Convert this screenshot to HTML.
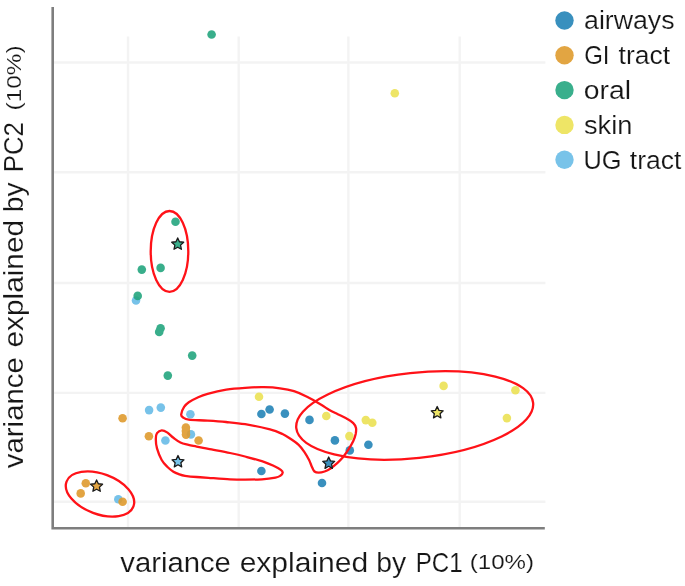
<!DOCTYPE html>
<html><head><meta charset="utf-8">
<style>
html,body{margin:0;padding:0;background:#fff;}
body{width:685px;height:586px;overflow:hidden;font-family:"Liberation Sans",sans-serif;}
svg{display:block;}
text{font-family:"Liberation Sans",sans-serif;fill:#161616;stroke:#fff;stroke-width:0.15px;}
svg{filter:blur(0.35px);}
</style></head><body>
<svg width="685" height="586" viewBox="0 0 685 586">
<rect width="685" height="586" fill="#fff"/>
<!-- grid -->
<g stroke="#f3f3f3" stroke-width="2.4" fill="none">
<path d="M128.05 36.4V528M238.7 36.4V528M348.4 36.4V528M459.7 36.4V528"/>
<path d="M53 62.5H545.4M53 172.3H545.4M53 283H545.4M53 392.9H545.4M53 501.8H545.4"/>
</g>
<!-- axes -->
<path d="M52.7 7V528.2H544.8" stroke="#7e7e7e" stroke-width="2.6" fill="none" stroke-linejoin="miter"/>
<!-- dots -->
<g opacity="1">
<g fill="#69BCE7" opacity="0.9">
<circle cx="136" cy="300.5" r="4.3"/><circle cx="149.1" cy="410.1" r="4.3"/><circle cx="160.8" cy="407.6" r="4.3"/>
<circle cx="190.4" cy="414.3" r="4.3"/><circle cx="165.4" cy="440.5" r="4.3"/><circle cx="190.9" cy="434.4" r="4.3"/>
<circle cx="118.3" cy="499.3" r="4.3"/>
</g>
<g fill="#DF9B2E" opacity="0.9">
<circle cx="122.6" cy="418.3" r="4.3"/><circle cx="148.9" cy="436.2" r="4.3"/>
<circle cx="185.9" cy="427.5" r="4.3"/><circle cx="185.9" cy="431" r="4.3"/><circle cx="186" cy="434.6" r="4.3"/>
<circle cx="198.6" cy="440.5" r="4.3"/>
<circle cx="85.8" cy="483.3" r="4.3"/><circle cx="80.7" cy="493.4" r="4.3"/><circle cx="122.6" cy="501.8" r="4.3"/>
</g>
<g fill="#24A67F" opacity="0.9">
<circle cx="211.6" cy="34.5" r="4.3"/><circle cx="175.5" cy="221.7" r="4.3"/><circle cx="160.6" cy="267.9" r="4.3"/>
<circle cx="141.8" cy="269.6" r="4.3"/><circle cx="137.7" cy="295.9" r="4.3"/>
<circle cx="160.6" cy="328.3" r="4.3"/><circle cx="159.2" cy="331.9" r="4.3"/>
<circle cx="192.2" cy="355.6" r="4.3"/><circle cx="167.8" cy="375.6" r="4.3"/>
</g>
<g fill="#ECE255" opacity="0.9">
<circle cx="394.8" cy="93.3" r="4.3"/><circle cx="259" cy="396.8" r="4.3"/>
<circle cx="326.3" cy="416" r="4.3"/><circle cx="365.8" cy="420.1" r="4.3"/><circle cx="372.3" cy="422.8" r="4.3"/>
<circle cx="349.4" cy="436.1" r="4.3"/><circle cx="443.6" cy="385.9" r="4.3"/><circle cx="515.4" cy="390.3" r="4.3"/>
<circle cx="506.9" cy="418.1" r="4.3"/>
</g>
<g fill="#2484B7" opacity="0.9">
<circle cx="261.4" cy="414" r="4.3"/><circle cx="269.6" cy="409.5" r="4.3"/><circle cx="284.9" cy="413.6" r="4.3"/>
<circle cx="309.5" cy="419.9" r="4.3"/><circle cx="334.9" cy="440.4" r="4.3"/><circle cx="349.8" cy="450.4" r="4.3"/>
<circle cx="368.4" cy="444.7" r="4.3"/><circle cx="322" cy="483" r="4.3"/><circle cx="261.4" cy="471" r="4.3"/>
</g>
</g>
<!-- ellipses -->
<g fill="none" stroke="#ff1218" stroke-width="2.3">
<ellipse cx="169.5" cy="251.4" rx="18.8" ry="40.4"/>
<ellipse cx="100" cy="494" rx="35.7" ry="20.1" transform="rotate(20.4 100 494)"/>
<ellipse cx="414.7" cy="415.5" rx="119.1" ry="42.6" transform="rotate(-6.1 414.7 415.5)"/>
<!-- lower blob -->
<path d="M161.7 430.3C163.4 430.2 165.6 431.4 167.5 432.6C169.4 433.9 171.2 436.2 173.4 437.8C175.6 439.4 177.9 441.3 180.4 442.5C182.9 443.7 185.8 444.2 188.5 444.9C191.2 445.6 193.4 445.9 196.7 446.6C200.0 447.3 202.8 447.8 208.4 448.9C214.0 450.0 223.9 451.7 230.0 453.0C236.1 454.3 239.3 455.0 245.0 456.5C250.7 458.0 258.9 460.1 263.9 461.8C268.9 463.5 272.2 465.2 275.0 466.5C277.8 467.8 279.5 468.8 280.8 469.8C282.1 470.8 282.8 471.6 282.7 472.6C282.6 473.6 281.5 475.0 280.3 475.8C279.1 476.6 278.6 477.0 275.5 477.6C272.4 478.2 267.1 479.0 262.0 479.3C256.9 479.6 250.4 479.6 245.1 479.6C239.8 479.6 236.1 479.6 230.0 479.3C223.9 479.0 214.0 478.2 208.4 477.8C202.8 477.4 200.6 477.3 196.7 477.0C192.8 476.7 187.9 476.2 185.0 475.8C182.1 475.4 181.1 475.0 179.2 474.3C177.3 473.6 175.3 472.9 173.4 471.7C171.5 470.5 169.4 468.9 167.5 467.0C165.6 465.1 163.4 463.1 161.7 460.0C159.9 456.9 158.0 451.9 157.0 448.4C156.0 444.9 155.8 441.5 155.8 439.0C155.8 436.5 156.0 434.6 157.0 433.2C158.0 431.8 159.9 430.4 161.7 430.3Z"/>
<!-- upper hairpin -->
<path d="M181.2 414.4C181.4 412.6 182.8 408.9 184.1 406.9C185.4 404.9 186.5 403.8 188.8 402.2C191.2 400.6 195.1 398.6 198.2 397.2C201.3 395.8 202.9 395.1 207.6 393.8C212.3 392.5 220.1 390.6 226.3 389.6C232.6 388.6 238.8 388.2 245.1 387.8C251.4 387.4 258.1 387.1 263.9 387.2C269.7 387.3 275.0 387.6 280.0 388.3C285.0 389.0 289.5 389.8 294.0 391.2C298.5 392.6 302.5 394.5 307.0 396.8C311.5 399.1 317.5 402.6 321.2 404.8C324.9 407.0 326.6 408.4 329.4 410.0C332.2 411.6 334.8 412.7 337.8 414.2C340.8 415.7 344.7 417.5 347.3 419.0C349.9 420.5 351.9 421.6 353.3 423.1C354.8 424.6 355.6 426.1 356.0 427.9C356.4 429.7 356.1 431.7 355.7 433.9C355.2 436.1 354.5 438.4 353.3 441.0C352.1 443.6 350.3 446.6 348.5 449.4C346.7 452.2 344.5 455.4 342.5 457.8C340.5 460.2 338.6 461.9 336.6 463.7C334.6 465.5 332.6 467.2 330.6 468.5C328.6 469.8 326.6 470.8 324.6 471.5C322.6 472.2 320.4 472.7 318.7 472.7C317.0 472.7 315.6 472.4 314.5 471.5C313.4 470.6 313.0 469.2 312.1 467.3C311.2 465.4 310.4 462.7 309.1 460.1C307.8 457.5 306.1 454.4 304.3 451.8C302.5 449.2 300.8 446.8 298.4 444.6C296.0 442.4 292.6 440.3 290.0 438.5C287.4 436.7 285.8 435.5 282.5 434.0C279.2 432.5 276.2 431.0 270.0 429.4C263.8 427.8 252.4 425.4 245.1 424.2C237.8 423.0 232.2 422.6 226.0 422.0C219.8 421.4 213.8 421.0 207.6 420.6C201.4 420.2 192.9 420.2 188.8 419.7C184.7 419.2 184.4 418.4 183.1 417.5C181.8 416.6 181.0 416.2 181.2 414.4Z"/>
</g>
<!-- stars -->
<defs>
<path id="st" d="M0.00 -6.30L1.76 -2.43L5.99 -1.95L2.85 0.93L3.70 5.10L0.00 3.00L-3.70 5.10L-2.85 0.93L-5.99 -1.95L-1.76 -2.43Z"/>
</defs>
<g stroke="#1a1a1a" stroke-width="1.3" stroke-linejoin="round">
<use href="#st" x="177.7" y="244.2" fill="#3AAF8C"/>
<use href="#st" x="178" y="461.8" fill="#78C3E9"/>
<use href="#st" x="96.6" y="486.2" fill="#E2A543"/>
<use href="#st" x="328.7" y="463.3" fill="#3A90BE"/>
<use href="#st" x="437.2" y="412.8" fill="#EEE566"/>
</g>
<!-- legend -->
<g fill-opacity="0.9">
<circle cx="564.5" cy="20.5" r="9.2" fill="#2484B7"/>
<circle cx="564.5" cy="55.3" r="9.2" fill="#DF9B2E"/>
<circle cx="564.5" cy="90.1" r="9.2" fill="#24A67F"/>
<circle cx="564.5" cy="124.9" r="9.2" fill="#ECE255"/>
<circle cx="564.5" cy="159.7" r="9.2" fill="#69BCE7"/>
</g>
<g id="txt">
<text font-size="28" transform="translate(120.30 571.5) scale(1.0457 1)">variance</text>
<text font-size="28" transform="translate(239.63 571.5) scale(1.0735 1)">explained</text>
<text font-size="28" transform="translate(376.18 571.5) scale(1.0111 1)">by</text>
<text font-size="28" transform="translate(415.78 571.5) scale(0.8608 1)">PC1</text>
<text font-size="21" transform="translate(469.75 568.5) scale(1.1481 1)">(10%)</text>
<text font-size="28" transform="translate(23 468.20) rotate(-90) scale(1.0495 1)">variance</text>
<text font-size="28" transform="translate(23 347.57) rotate(-90) scale(1.0658 1)">explained</text>
<text font-size="28" transform="translate(23 212.22) rotate(-90) scale(1.0111 1)">by</text>
<text font-size="28" transform="translate(23 172.14) rotate(-90) scale(0.9196 1)">PC2</text>
<text font-size="21" transform="translate(20.5 110.46) rotate(-90) scale(1.1611 1)">(10%)</text>
<text font-size="25" transform="translate(584.03 29.3) scale(1.0687 1)">airways</text>
<text font-size="25" transform="translate(584.14 64.1) scale(0.9609 1)">GI</text>
<text font-size="25" transform="translate(618.60 64.1) scale(1.0612 1)">tract</text>
<text font-size="25" transform="translate(583.76 98.9) scale(1.1359 1)">oral</text>
<text font-size="25" transform="translate(584.01 133.7) scale(1.0881 1)">skin</text>
<text font-size="25" transform="translate(583.47 168.5) scale(1.0147 1)">UG</text>
<text font-size="25" transform="translate(629.80 168.5) scale(1.0592 1)">tract</text>
</g>
</svg>
</body></html>
